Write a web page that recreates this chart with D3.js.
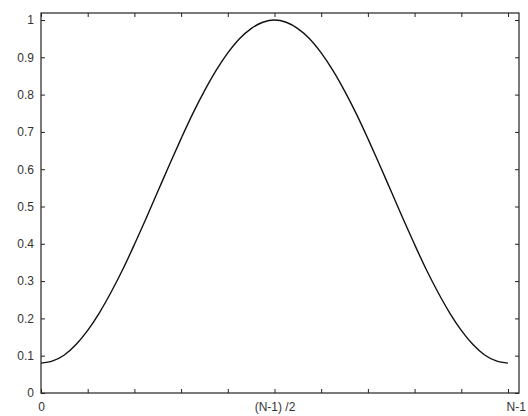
<!DOCTYPE html>
<html>
<head>
<meta charset="utf-8">
<script src="https://cdn.jsdelivr.net/npm/d3@7"></script>
<style>
  body { margin: 0; background: #fff; }
  svg text { font-family: "Liberation Sans", Arial, sans-serif; fill: #222; }
</style>
</head>
<body>
<svg id="chart" width="528" height="416"></svg>
<script>
// window position, as fraction of N-1
const positions = [0, 0.025, 0.05, 0.075, 0.1, 0.125, 0.15, 0.175, 0.2, 0.225,
  0.25, 0.275, 0.3, 0.325, 0.35, 0.375, 0.4, 0.425, 0.45, 0.475, 0.5,
  0.525, 0.55, 0.575, 0.6, 0.625, 0.65, 0.675, 0.7, 0.725,
  0.75, 0.775, 0.8, 0.825, 0.85, 0.875, 0.9, 0.925, 0.95, 0.975, 1];
// amplitude
const amplitudes = [0.08, 0.086, 0.102, 0.13, 0.168, 0.215, 0.27, 0.331, 0.398, 0.468,
  0.54, 0.612, 0.682, 0.749, 0.81, 0.865, 0.912, 0.95, 0.977, 0.994, 1.0,
  0.994, 0.977, 0.95, 0.912, 0.865, 0.81, 0.749, 0.682, 0.612,
  0.54, 0.468, 0.398, 0.331, 0.27, 0.215, 0.168, 0.13, 0.102, 0.086, 0.08];
const yTicks = [0, 0.1, 0.2, 0.3, 0.4, 0.5, 0.6, 0.7, 0.8, 0.9, 1];
const xTicks = [0, 0.1, 0.2, 0.3, 0.4, 0.5, 0.6, 0.7, 0.8, 0.9, 1];
const xTickLabels = { 0: "0", 0.5: "(N-1) /2", 1: "N-1" };

const svg = d3.select("#chart");
const plotLeft = 41, plotRight = 519, plotTop = 13, plotBottom = 393;

const x = d3.scaleLinear().domain([0, 1]).range([plotLeft, 508]);
const y = d3.scaleLinear().domain([0, 1]).range([plotBottom, 20]);

const tickLen = 4;

// frame
svg.append("rect")
  .attr("x", plotLeft).attr("y", plotTop)
  .attr("width", plotRight - plotLeft).attr("height", plotBottom - plotTop)
  .attr("fill", "none").attr("stroke", "#222").attr("stroke-width", 1.2);

// left axis
const yAxis = d3.axisLeft(y).tickValues(yTicks)
  .tickSize(-tickLen).tickPadding(7)
  .tickFormat((d) => d3.format("~g")(d));
svg.append("g").attr("transform", `translate(${plotLeft},0)`).call(yAxis)
  .call((g) => g.select(".domain").remove())
  .call((g) => g.selectAll("line").attr("stroke", "#222"))
  .call((g) => g.selectAll("text").attr("font-size", 12).style("fill", "#333"));

// right ticks
svg.append("g").attr("transform", `translate(${plotRight},0)`)
  .call(d3.axisRight(y).tickValues(yTicks).tickSize(-tickLen).tickFormat(""))
  .call((g) => g.select(".domain").remove())
  .call((g) => g.selectAll("line").attr("stroke", "#222"));

// bottom axis
const xAxis = d3.axisBottom(x).tickValues(xTicks)
  .tickSize(-tickLen).tickPadding(9)
  .tickFormat((d) => xTickLabels[d] || "");
svg.append("g").attr("transform", `translate(0,${plotBottom})`).call(xAxis)
  .call((g) => g.select(".domain").remove())
  .call((g) => g.selectAll("line").attr("stroke", "#222"))
  .call((g) => g.selectAll("text").attr("font-size", 12).style("fill", "#333"))
  .call((g) => g.selectAll("text").filter((d) => d === 1)
    .attr("text-anchor", "start").attr("dx", -2));

// top ticks
svg.append("g").attr("transform", `translate(0,${plotTop})`)
  .call(d3.axisTop(x).tickValues(xTicks).tickSize(-tickLen).tickFormat(""))
  .call((g) => g.select(".domain").remove())
  .call((g) => g.selectAll("line").attr("stroke", "#222"));

// curve
const line = d3.line()
  .x((d, i) => x(positions[i]))
  .y((d) => y(d))
  .curve(d3.curveMonotoneX);

svg.append("path")
  .datum(amplitudes)
  .attr("d", line)
  .attr("fill", "none")
  .attr("stroke", "#111")
  .attr("stroke-width", 1.4);
</script>
</body>
</html>
